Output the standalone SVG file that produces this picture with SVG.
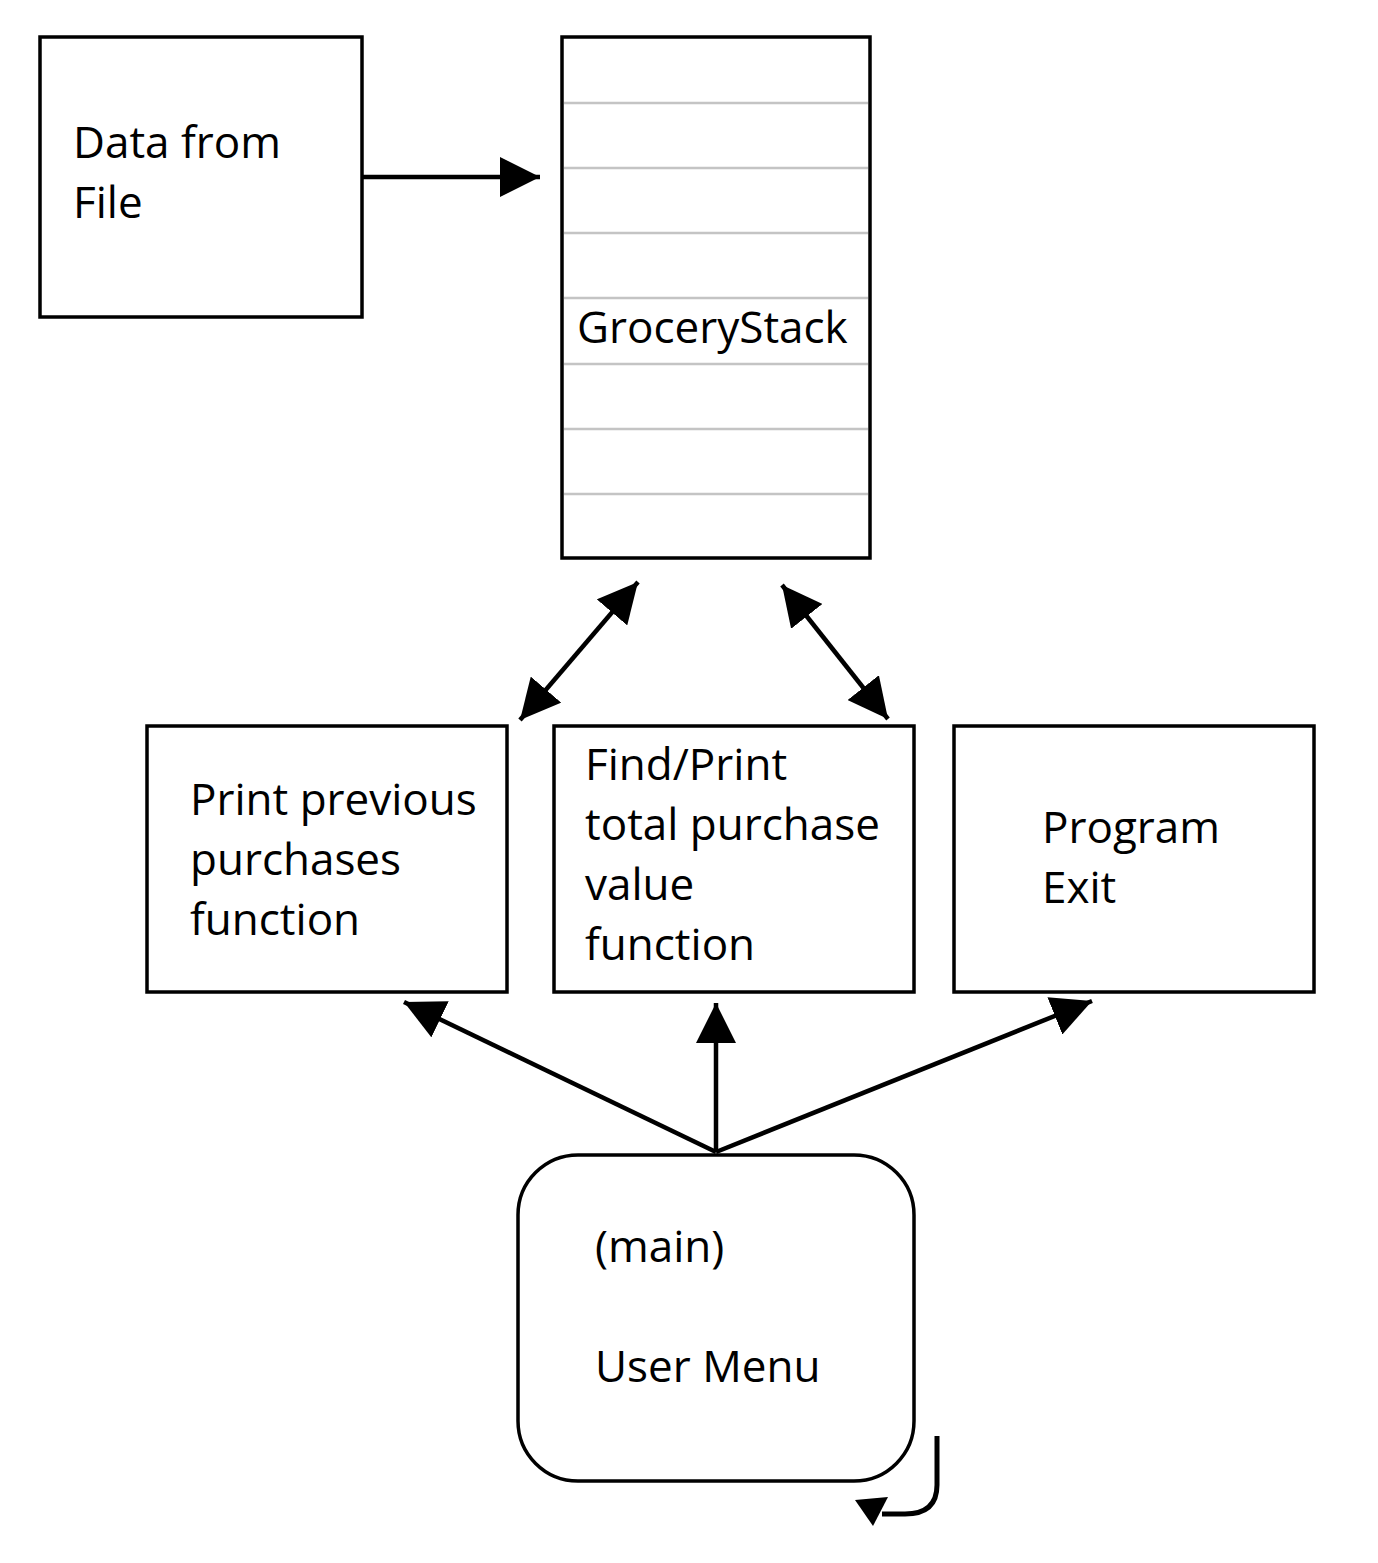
<svg xmlns="http://www.w3.org/2000/svg" width="1378" height="1563" viewBox="0 0 1378 1563">
<style>
.box{fill:#fff;stroke:#000;stroke-width:3.5}
.sep{stroke:#c4c4c4;stroke-width:2.5}
.t{font-family:"Open Sans","Noto Sans",sans-serif;font-size:44px;fill:#000}
.c{fill:none;stroke:#000;stroke-width:4.5}
</style>
<defs>
<marker id="ah" markerUnits="userSpaceOnUse" viewBox="0 0 40 40" refX="40" refY="20" markerWidth="40" markerHeight="40" orient="auto-start-reverse">
<path d="M0,0 L40,20 L0,40 z" fill="#000"/>
</marker>
</defs>
<rect width="1378" height="1563" fill="#fff"/>
<g id="connectors">
<line class="c" x1="362" y1="177" x2="540" y2="177" marker-end="url(#ah)"/>
<line class="c" x1="638" y1="582" x2="520" y2="720" marker-start="url(#ah)" marker-end="url(#ah)"/>
<line class="c" x1="782" y1="585" x2="888" y2="719" marker-start="url(#ah)" marker-end="url(#ah)"/>
<line class="c" x1="716" y1="1152" x2="404" y2="1002" marker-end="url(#ah)"/>
<line class="c" x1="716" y1="1152" x2="716" y2="1003" marker-end="url(#ah)"/>
<line class="c" x1="716" y1="1152" x2="1092" y2="1001" marker-end="url(#ah)"/>
<path class="c" style="stroke-width:5" d="M937,1436 L937,1485 Q937,1514 905,1514 L882,1514"/>
<polygon points="855,1500 888,1497 873,1526" fill="#000"/>
</g>
<g id="data-from-file">
<rect class="box" x="40" y="37" width="322" height="280"/>
<text class="t" x="73" y="158">Data from</text>
<text class="t" x="73" y="218">File</text>
</g>
<g id="grocery-stack">
<rect class="box" x="562" y="37" width="308" height="521"/>
<line class="sep" x1="564" y1="103" x2="868" y2="103"/>
<line class="sep" x1="564" y1="168" x2="868" y2="168"/>
<line class="sep" x1="564" y1="233" x2="868" y2="233"/>
<line class="sep" x1="564" y1="298" x2="868" y2="298"/>
<line class="sep" x1="564" y1="364" x2="868" y2="364"/>
<line class="sep" x1="564" y1="429" x2="868" y2="429"/>
<line class="sep" x1="564" y1="494" x2="868" y2="494"/>
<text class="t" x="577" y="343">GroceryStack</text>
</g>
<g id="print-previous">
<rect class="box" x="147" y="726" width="360" height="266"/>
<text class="t" x="190" y="815">Print previous</text>
<text class="t" x="190" y="875">purchases</text>
<text class="t" x="190" y="935">function</text>
</g>
<g id="find-print-total">
<rect class="box" x="554" y="726" width="360" height="266"/>
<text class="t" x="585" y="780">Find/Print</text>
<text class="t" x="585" y="840">total purchase</text>
<text class="t" x="585" y="900">value</text>
<text class="t" x="585" y="960">function</text>
</g>
<g id="program-exit">
<rect class="box" x="954" y="726" width="360" height="266"/>
<text class="t" x="1042" y="843">Program</text>
<text class="t" x="1042" y="903">Exit</text>
</g>
<g id="user-menu">
<rect class="box" x="518" y="1155" width="396" height="326" rx="60" ry="60"/>
<text class="t" x="595" y="1262">(main)</text>
<text class="t" x="595" y="1382">User Menu</text>
</g>
</svg>
